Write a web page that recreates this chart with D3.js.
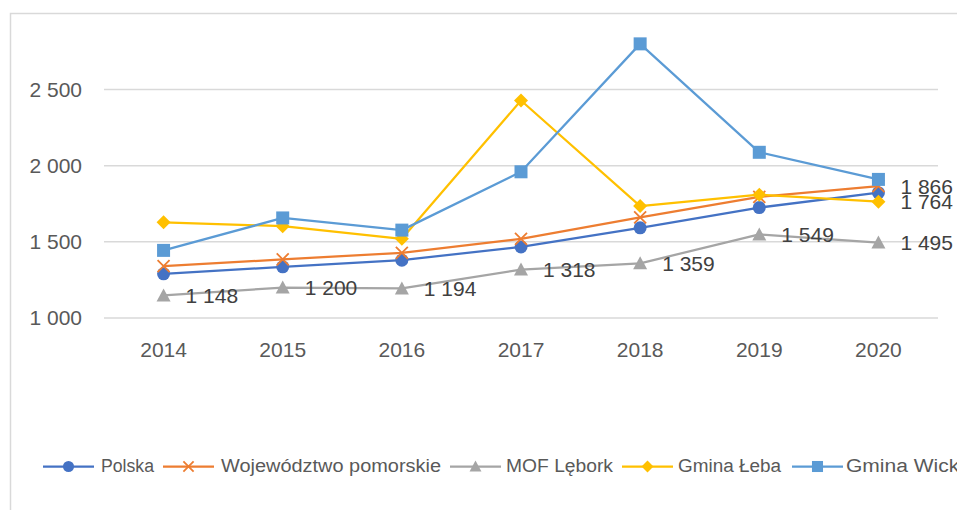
<!DOCTYPE html>
<html><head><meta charset="utf-8">
<script src="https://cdn.jsdelivr.net/npm/d3@7"></script>
<style>body{margin:0;background:#fff}svg{display:block}text{font-family:"Liberation Sans",Arial,sans-serif}</style>
</head><body><svg id="c" width="957" height="510"></svg>
<script>
const years = ["2014","2015","2016","2017","2018","2019","2020"];
const polska = [1290, 1336, 1380, 1467, 1592, 1725, 1823];
const wojewodztwo = [1340, 1385, 1428, 1520, 1660, 1795, 1866];
const mofLebork = [1148, 1200, 1194, 1318, 1359, 1549, 1495];
const gminaLeba = [1628, 1603, 1520, 2428, 1735, 1810, 1764];
const gminaWicko = [1444, 1657, 1577, 1960, 2800, 2088, 1910];
const yTicks = [1000, 1500, 2000, 2500, 3000];
const seriesNames = ["Polska","Województwo pomorskie","MOF Lębork","Gmina Łeba","Gmina Wicko"];

const series = [
  {name: seriesNames[0], values: polska, color: "#4472C4", marker: "circle", labels: []},
  {name: seriesNames[1], values: wojewodztwo, color: "#ED7D31", marker: "x", labels: [6]},
  {name: seriesNames[2], values: mofLebork, color: "#A5A5A5", marker: "triangle", labels: [0,1,2,3,4,5,6]},
  {name: seriesNames[3], values: gminaLeba, color: "#FFC000", marker: "diamond", labels: [6]},
  {name: seriesNames[4], values: gminaWicko, color: "#5B9BD5", marker: "square", labels: []}
];

const svg = d3.select("#c");
const fmt = v => d3.format(",")(v).replace(/,/g, " ");

// chart border (right and bottom edges fall outside the picture)
svg.append("rect").attr("x",10.5).attr("y",13.5).attr("width",980).attr("height",520)
  .attr("fill","none").attr("stroke","#D9D9D9").attr("stroke-width",1.5);

const x = d3.scaleBand().domain(years).range([104, 938]);
const y = d3.scaleLinear().domain([1000, 3000]).range([318, 13.4]);

// gridlines
svg.append("g").selectAll("line").data(yTicks.filter(t => t < 3000)).join("line")
  .attr("x1",104).attr("x2",938).attr("y1",d=>y(d)).attr("y2",d=>y(d))
  .attr("stroke","#D9D9D9").attr("stroke-width",1.5);

// y axis labels
const yAxis = d3.axisLeft(y).tickValues(yTicks.filter(t => t < 3000)).tickSize(0).tickPadding(22).tickFormat(fmt);
const gy = svg.append("g").attr("transform","translate(104,0)").call(yAxis);
gy.select(".domain").remove();
gy.selectAll("text").attr("fill","#595959").style("font-size","21px").style("font-family",'"Liberation Sans",Arial,sans-serif');

// x axis labels
const xAxis = d3.axisBottom(x).tickSize(0).tickPadding(0);
const gx = svg.append("g").attr("transform","translate(0,318)").call(xAxis);
gx.select(".domain").remove();
gx.selectAll("text").attr("fill","#595959").attr("dy",null).attr("y",39).style("font-size","21px").style("font-family",'"Liberation Sans",Arial,sans-serif');

const cx = i => x(years[i]) + x.bandwidth()/2;

function drawMarker(g, type, color, px, py, scale) {
  const s = scale || 1;
  if (type === "circle") g.append("circle").attr("cx",px).attr("cy",py).attr("r",6.5*s).attr("fill",color);
  else if (type === "square") g.append("rect").attr("x",px-6.5*s).attr("y",py-6.5*s).attr("width",13*s).attr("height",13*s).attr("fill",color);
  else if (type === "diamond") g.append("path").attr("d",`M${px},${py-7*s}L${px+7*s},${py}L${px},${py+7*s}L${px-7*s},${py}Z`).attr("fill",color);
  else if (type === "triangle") g.append("path").attr("d",`M${px},${py-7*s}L${px+7*s},${py+6*s}L${px-7*s},${py+6*s}Z`).attr("fill",color);
  else if (type === "x") g.append("path").attr("d",`M${px-6*s},${py-6*s}L${px+6*s},${py+6*s}M${px+6*s},${py-6*s}L${px-6*s},${py+6*s}`).attr("stroke",color).attr("stroke-width",1.8).attr("fill","none");
}

const line = d3.line().x((d,i)=>cx(i)).y(d=>y(d));
series.forEach(s => {
  const g = svg.append("g");
  g.append("path").attr("d", line(s.values)).attr("fill","none").attr("stroke",s.color).attr("stroke-width",2.25).attr("stroke-linejoin","round");
  s.values.forEach((v,i) => drawMarker(g, s.marker, s.color, cx(i), y(v)));
});
// data labels
series.forEach(s => {
  s.labels.forEach(i => {
    svg.append("text").attr("x", cx(i)+22).attr("y", y(s.values[i])).attr("dy","0.36em")
      .attr("fill","#404040").style("font-size","21px").text(fmt(s.values[i]));
  });
});

// legend
const legendPos = [{l:43, t:101, w:53},{l:163, t:221, w:220},{l:450, t:506, w:107},{l:622, t:678, w:103},{l:792, t:846, w:125}];
const ly = 466.5;
series.forEach((s,k) => {
  const p = legendPos[k];
  const g = svg.append("g");
  g.append("line").attr("x1",p.l).attr("x2",p.l+51).attr("y1",ly).attr("y2",ly).attr("stroke",s.color).attr("stroke-width",2.25);
  drawMarker(g, s.marker, s.color, p.l+25.5, ly, 0.85);
  g.append("text").attr("x",p.t).attr("y",472).attr("fill","#595959").style("font-size","18px")
    .attr("textLength",p.w).attr("lengthAdjust","spacingAndGlyphs").text(s.name);
});
</script></body></html>
